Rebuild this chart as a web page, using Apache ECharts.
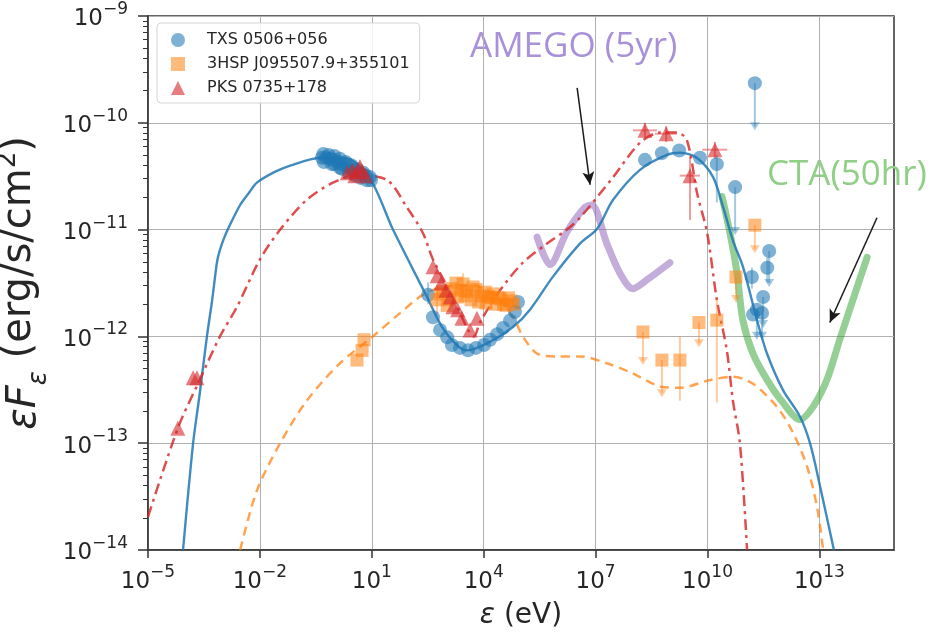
<!DOCTYPE html>
<html><head><meta charset="utf-8">
<script src="https://cdn.jsdelivr.net/npm/echarts@6/dist/echarts.min.js"></script>
<style>html,body{margin:0;padding:0;background:#fff}#c{width:932px;height:638px}</style>
</head><body><div id="c"></div>
<script>
// ---------- axes ----------
const xTickValues = [1e-5, 1e-2, 1e1, 1e4, 1e7, 1e10, 1e13];
const yTickValues = [1e-14, 1e-13, 1e-12, 1e-11, 1e-10, 1e-9];
const yMinorTickValues = [];
for (let e = -14; e < -9; e++) for (let m = 2; m <= 9; m++) yMinorTickValues.push(m * Math.pow(10, e));

// ---------- model curves [eV, erg/s/cm2] ----------
const txsModel = [[8.7e-5,1.0e-14],[1.62e-4,1.0e-13],[2.45e-4,2.95e-13],[3.8e-4,1.0e-12],[5.25e-4,2.19e-12],[7.1e-4,5.0e-12],
 [8.3e-4,6.3e-12],[1.12e-3,8.5e-12],[1.6e-3,1.12e-11],[2.95e-3,1.7e-11],[5.0e-3,2.19e-11],[8.3e-3,2.75e-11],[2.5e-2,3.47e-11],[6.5e-2,3.98e-11],[0.41,4.68e-11],[1.9,4.68e-11],[8.9,3.0e-11],[37,1.0e-11],
 [302,2.34e-12],[760,1.23e-12],[1.9e3,8.3e-13],[3.55e3,7.4e-13],[1.48e4,8.9e-13],[6.2e4,1.23e-12],[1.74e5,1.78e-12],[7.2e5,3.63e-12],
 [3.8e6,7.4e-12],[1.1e7,1.02e-11],[2.95e7,1.9e-11],[1.55e8,3.63e-11],[8.1e8,5.0e-11],[1.82e9,5.25e-11],[5.25e9,4.68e-11],[1.41e10,3.1e-11],
 [2.63e10,1.62e-11],[4.8e10,7.9e-12],[8.9e10,4.5e-12],[2.14e11,1.41e-12],[4.0e11,6.8e-13],[1.05e12,3.16e-13],[3.0e12,1.78e-13],
 [5.6e12,1.0e-13],[1.05e13,3.9e-14],[2.45e13,1.0e-14]];
const hspModel = [[2.95e-3,1e-14],[8.3e-3,3.6e-14],[3.5e-2,1e-13],[0.18,2.5e-13],[1.4,5.6e-13],[10.7,1e-12],[58,1.66e-12],[234,2.45e-12],
 [1e3,2.95e-12],[5e3,3.0e-12],[2e4,2.4e-12],[6.2e4,1.5e-12],[1.12e5,1e-12],[2.7e5,6.9e-13],[9.3e5,6.5e-13],[3.8e6,6.5e-13],[2.0e7,5.6e-13],
 [8.7e7,4.6e-13],[5.4e8,3.4e-13],[1.8e9,3.3e-13],[1.17e10,3.9e-13],[4.8e10,4.2e-13],[1.66e11,3.6e-13],[7.2e11,2.2e-13],[1.95e12,1.26e-13],
 [4.7e12,6.0e-14],[8.7e12,2.5e-14],[1.26e13,1e-14]];
const pksModel = [[1e-5,2.04e-14],[6.3e-5,1.38e-13],[2.2e-4,3.63e-13],[8.5e-4,1.0e-12],[2.45e-3,1.9e-12],[1e-2,5.25e-12],[3.5e-2,1.0e-11],
 [0.18,1.9e-11],[0.91,2.75e-11],[4.0,3.24e-11],[26,2.9e-11],[87,1.62e-11],[234,9.3e-12],[437,5.25e-12],[1.5e3,2.34e-12],[3.8e3,1.15e-12],
 [5.5e3,1.0e-12],[7.9e3,1.35e-12],[2.75e4,2.7e-12],[1.12e5,4.9e-12],[5.0e5,7.4e-12],[1.7e6,1.0e-11],[3.8e6,1.29e-11],[2.95e7,3.1e-11],
 [1.55e8,6.5e-11],[5.4e8,8.1e-11],[1.5e9,8.1e-11],[2.8e9,6.9e-11],[5.25e9,2.2e-11],[9.8e9,9.3e-12],[1.78e10,2.2e-12],[3.3e10,7.4e-13],
 [4.8e10,2.5e-13],[7.4e10,1.0e-13],[1.15e11,1.0e-14]];
const amegoSens = [[2.7e5,8.5e-12],[6.0e5,4.7e-12],[1.7e6,9.5e-12],[5.2e6,1.62e-11],[7.9e6,1.7e-11],[2.0e7,7.4e-12],[4.5e7,3.9e-12],
 [1.0e8,2.8e-12],[2.4e8,3.4e-12],[9.8e8,4.9e-12]];
const ctaSens = [[2.45e10,2.04e-11],[4.0e10,9.3e-12],[6.2e10,3.9e-12],[8.9e10,1.41e-12],[1.66e11,6.9e-13],[4.0e11,3.9e-13],[1.05e12,2.4e-13],
 [3.0e12,1.66e-13],[6.8e12,2.2e-13],[1.58e13,3.9e-13],[3.5e13,9.3e-13],[7.9e13,2.2e-12],[1.9e14,5.5e-12]];

// ---------- data points: [eV, flux, yLo, yHi, xLo, xHi, upperLimitArrowEnd] ----------
const N = null;
const txsPoints = [
 [0.46,4.7e-11],[0.59,4.7e-11],[0.76,4.6e-11],[0.98,4.5e-11],[1.23,4.3e-11],[1.58,4.1e-11],[2.0,3.95e-11],[2.6,3.8e-11],[3.3,3.6e-11],
 [4.3,3.45e-11],[5.5,3.3e-11],[6.9,3.2e-11],[8.9,3.1e-11],[0.52,4.3e-11],[0.85,4.1e-11],[1.4,3.8e-11],
 [0.5,5.1e-11],[0.7,5.0e-11],[1.0,4.9e-11],[1.4,4.6e-11],[2.0,4.3e-11],[2.8,4.0e-11],[4.0,3.7e-11],[6.0,3.4e-11],
 [1.0,4.1e-11],[1.6,3.7e-11],[2.4,3.45e-11],[3.6,3.2e-11],[5.0,3.05e-11],[7.5,2.9e-11],[9.5,2.9e-11],
 [324,2.45e-12,2.0e-12,3.2e-12],[437,1.51e-12],[676,1.15e-12],[1.05e3,9.8e-13],[1.41e3,8.3e-13],[2.3e3,7.8e-13],[3.8e3,7.4e-13],
 [6.2e3,7.8e-13],[1.02e4,8.3e-13],[1.48e4,9.3e-13],[2.3e4,1.05e-12],[3.3e4,1.2e-12],[5.1e4,1.41e-12],[6.9e4,1.7e-12],[8.3e4,2.1e-12],
 [2.1e8,4.5e-11],[6.0e8,5.2e-11],[1.74e9,5.5e-11],[6.3e9,4.7e-11],[1.78e10,4.1e-11,1.8e-11,5.0e-11],
 [5.5e10,2.5e-11,N,N,N,N,8.9e-12],[1.86e11,2.35e-10,N,N,N,N,8.5e-11],
 [4.5e11,6.3e-12,N,N,N,N,2.9e-12],[4.0e11,4.4e-12,3.2e-12,5.5e-12],[1.55e11,3.6e-12,2.8e-12,4.4e-12],
 [3.1e11,2.34e-12,N,N,N,N,1.2e-12],[2.1e11,1.78e-12,N,N,N,N,9.3e-13],[2.9e11,1.66e-12,N,N,N,N,9.3e-13],[1.66e11,1.6e-12]
];
const hspPoints = [
 [4.0,6.0e-13],[5.5,7.4e-13],[6.2,9.3e-13],
 [562,2.2e-12,1.6e-12,3.0e-12],[813,2.63e-12],[1.05e3,1.95e-12],[1.41e3,2.8e-12],[2.0e3,2.34e-12],[2.8e3,3.1e-12,2.5e-12,3.9e-12],
 [3.55e3,2.63e-12],[4.6e3,2.2e-12],[6.2e3,2.75e-12],[8.5e3,2.4e-12],[1.15e4,2.05e-12],[1.58e4,2.3e-12,1.8e-12,3.0e-12],
 [2.1e4,2.0e-12],[2.9e4,2.24e-12],[4.0e4,1.95e-12],[5.4e4,2.15e-12],[1.8e3,3.16e-12],
 [700,2.5e-12],[1.2e3,2.2e-12],[2.4e3,2.7e-12],[3.2e3,2.4e-12],[5.2e3,2.9e-12],[7.3e3,2.1e-12],[1.0e4,2.6e-12],[1.35e4,2.35e-12],
 [1.8e4,2.5e-12],[2.5e4,2.3e-12],[3.4e4,2.0e-12],[4.6e4,2.3e-12],[6.3e4,2.0e-12],
 [1.86e8,1.1e-12,N,N,N,N,5.4e-13],[6.0e8,6.0e-13,N,N,N,N,2.7e-13],[1.82e9,6.0e-13,2.5e-13,1.0e-12],
 [5.9e9,1.35e-12,N,N,N,N,7.9e-13],[1.78e10,1.42e-12,2.4e-13,2.2e-12],
 [1.86e11,1.1e-11,N,N,N,N,6.0e-12],[5.8e10,3.6e-12,N,N,N,N,2.05e-12]
];
const pksPoints = [
 [6.3e-5,1.38e-13],[1.62e-4,4.1e-13],[2.05e-4,4.1e-13],
 [2.2,3.4e-11],[3.0,3.6e-11],[4.0,3.5e-11],[5.5,3.5e-11],[6.9,3.2e-11],[3.5,3.2e-11],[4.8,3.9e-11],
 [437,4.5e-12],[562,3.7e-12],[724,3.16e-12],[977,2.7e-12],[1.26e3,2.34e-12],[1.5e3,1.9e-12],[2.0e3,1.78e-12],[2.6e3,1.48e-12],
 [4.3e3,1.15e-12],[6.6e3,1.48e-12],
 [2.1e8,8.5e-11,7.2e-11,1.0e-10,1.0e8,4.4e8],[7.8e8,7.9e-11,6.6e-11,9.3e-11,3.9e8,1.5e9],
 [3.4e9,3.2e-11,1.23e-11,4.8e-11,1.8e9,6.3e9],[1.58e10,5.6e-11,4.6e-11,6.6e-11,7.2e9,3.4e10]
];

// ---------- annotations ----------
const amegoLabel = 'AMEGO (5yr)';
const ctaLabel = 'CTA(50hr)';
const amegoArrow = [[3.2e6, 2.12e-10], [7.1e6, 2.63e-11]];
const ctaArrow = [[3.5e14, 1.29e-11], [1.9e13, 1.35e-12]];

const legendNames = ['TXS 0506+056', '3HSP J095507.9+355101', 'PKS 0735+178'];

const C_BLUE = 'rgba(31,119,180,0.72)', C_ORANGE = 'rgba(255,127,14,0.68)', C_RED = 'rgba(214,39,40,0.75)';
const E_BLUE = 'rgba(31,119,180,0.40)', E_ORANGE = 'rgba(255,127,14,0.40)', E_RED = 'rgba(214,39,40,0.45)';

function errSeries(points, color) {
  return {
    type: 'custom', silent: true, z: 3,
    data: points.map(p => [p[0], p[1]]),
    renderItem: function (params, api) {
      const p = points[params.dataIndex];
      const c = api.coord([p[0], p[1]]);
      const ch = [];
      const st = { stroke: color, lineWidth: 2, fill: null };
      if (p[2] != null) {
        const a = api.coord([p[0], p[2]]), b = api.coord([p[0], p[3]]);
        ch.push({ type: 'line', shape: { x1: a[0], y1: a[1], x2: b[0], y2: b[1] }, style: st });
      }
      if (p[4] != null) {
        const a = api.coord([p[4], p[1]]), b = api.coord([p[5], p[1]]);
        ch.push({ type: 'line', shape: { x1: a[0], y1: a[1], x2: b[0], y2: b[1] }, style: st });
      }
      if (p[6] != null) {
        const e = api.coord([p[0], p[6]]);
        ch.push({ type: 'line', shape: { x1: c[0], y1: c[1], x2: c[0], y2: e[1] - 4 }, style: st });
        ch.push({ type: 'polygon', shape: { points: [[e[0] - 5, e[1] - 8], [e[0] + 5, e[1] - 8], [e[0], e[1]]] }, style: { fill: color } });
      }
      return { type: 'group', children: ch };
    }
  };
}

function powLabel(v) {
  const e = Math.round(Math.log10(v));
  const s = String(e).replace('-', '\u2212');
  return '{b|10}{s|' + s + '}';
}
const labRich = {
  b: { fontSize: 23, fontFamily: 'DejaVu Sans', color: '#262626', verticalAlign: 'bottom', lineHeight: 30 },
  s: { fontSize: 17, fontFamily: 'DejaVu Sans', color: '#262626', verticalAlign: 'top', lineHeight: 30 }
};

const chart = echarts.init(document.getElementById('c'), null, { renderer: 'canvas' });
chart.setOption({
  animation: false,
  backgroundColor: '#fff',
  grid: { left: 148, right: 38, top: 16, bottom: 88, containLabel: false, outerBoundsMode: 'none',
    show: true, borderColor: '#333', borderWidth: 1.5, backgroundColor: 'transparent' },
  legend: {
    orient: 'vertical', left: 157, top: 23,
    data: [{ name: legendNames[0], icon: 'circle' }, { name: legendNames[1], icon: 'rect' }, { name: legendNames[2], icon: 'triangle' }],
    itemWidth: 14, itemHeight: 14, itemGap: 8,
    padding: [9, 10, 7, 14],
    borderColor: '#d5d5d5', borderWidth: 1, borderRadius: 4, backgroundColor: 'rgba(255,255,255,0.85)',
    textStyle: { fontSize: 16, fontFamily: 'DejaVu Sans', color: '#262626', padding: [0, 0, 0, 17] },
    selectedMode: false
  },
  xAxis: {
    type: 'log', logBase: 10, min: 1e-5, max: 1e15,
    name: '{i|\u03b5} (eV)', nameLocation: 'middle', nameGap: 52,
    nameTextStyle: { fontSize: 28, fontFamily: 'DejaVu Sans', color: '#262626', rich: { i: { fontSize: 28, fontStyle: 'italic', fontFamily: 'DejaVu Sans', color: '#262626' } } },
    axisLine: { show: true, lineStyle: { color: '#333', width: 1.5 } },
    axisTick: { show: true, inside: false, length: 8, lineStyle: { color: '#333', width: 1.5 }, customValues: xTickValues },
    axisLabel: { customValues: xTickValues, formatter: powLabel, rich: labRich, margin: 14 },
    splitLine: { show: true, lineStyle: { color: '#b0b0b0', width: 1 } },
    minorTick: { show: false }
  },
  yAxis: [{
    type: 'log', logBase: 10, min: 1e-14, max: 1e-9,
    name: '{i|\u03b5F}{sub|\u03b5} (erg/s/cm{sup|2})', nameLocation: 'middle', nameGap: 88, nameRotate: 90,
    nameTextStyle: { fontSize: 40, fontFamily: 'DejaVu Sans', color: '#262626',
      rich: {
        i: { fontSize: 40, fontStyle: 'italic', fontFamily: 'DejaVu Sans', color: '#262626', verticalAlign: 'bottom', lineHeight: 50 },
        sub: { fontSize: 26, fontStyle: 'italic', fontFamily: 'DejaVu Sans', color: '#262626', verticalAlign: 'bottom', lineHeight: 50, padding: [0, 0, -7, 0] },
        sup: { fontSize: 26, fontFamily: 'DejaVu Sans', color: '#262626', verticalAlign: 'top', lineHeight: 50 }
      } },
    axisLine: { show: true, lineStyle: { color: '#333', width: 1.5 } },
    axisTick: { show: true, length: 10, lineStyle: { color: '#333', width: 1.5 }, customValues: yTickValues },
    axisLabel: { customValues: yTickValues, formatter: powLabel, rich: labRich, margin: 20 },
    splitLine: { show: true, lineStyle: { color: '#b0b0b0', width: 1 } }
  }, {
    type: 'log', logBase: 10, min: 1e-14, max: 1e-9, position: 'left',
    axisLine: { show: false },
    axisTick: { show: true, length: 5, lineStyle: { color: '#333', width: 1 }, customValues: yMinorTickValues },
    axisLabel: { show: false },
    splitLine: { show: false }
  }],
  graphic: [
    { type: 'text', left: 470, top: 30, style: { text: amegoLabel, fontSize: 35, fontFamily: 'Open Sans', fill: '#a891d8' } },
    { type: 'text', left: 767, top: 158, style: { text: ctaLabel, fontSize: 35, fontFamily: 'Open Sans', fill: '#8fcf86' } }
  ],
  series: [
    { name: 'AMEGO', type: 'line', data: amegoSens, showSymbol: false, smooth: 0.3, z: 1,
      lineStyle: { color: 'rgba(148,103,189,0.55)', width: 7, cap: 'round', join: 'round' },
      markLine: { silent: true, symbol: ['none', 'arrow'], symbolSize: [9, 13], label: { show: false },
        lineStyle: { color: '#1a1a1a', width: 1.5, type: 'solid' },
        data: [[{ coord: amegoArrow[0] }, { coord: amegoArrow[1] }]] } },
    { name: 'CTA', type: 'line', data: ctaSens, showSymbol: false, smooth: 0.3, z: 1,
      lineStyle: { color: 'rgba(44,160,44,0.5)', width: 7, cap: 'round', join: 'round' },
      markLine: { silent: true, symbol: ['none', 'arrow'], symbolSize: [9, 13], label: { show: false },
        lineStyle: { color: '#1a1a1a', width: 1.5, type: 'solid' },
        data: [[{ coord: ctaArrow[0] }, { coord: ctaArrow[1] }]] } },
    { name: 'TXS model', type: 'line', data: txsModel, showSymbol: false, smooth: 0.3, z: 2,
      lineStyle: { color: 'rgba(31,119,180,0.85)', width: 2.4 } },
    { name: '3HSP model', type: 'line', data: hspModel, showSymbol: false, smooth: 0.3, z: 2,
      lineStyle: { color: 'rgba(255,127,14,0.72)', width: 2.5, type: [9, 6] } },
    { name: 'PKS model', type: 'line', data: pksModel, showSymbol: false, smooth: 0.3, z: 2,
      lineStyle: { color: 'rgba(214,39,40,0.82)', width: 2.5, type: [11, 5, 3, 5] } },
    errSeries(txsPoints, E_BLUE),
    errSeries(hspPoints, E_ORANGE),
    errSeries(pksPoints, E_RED),
    { name: legendNames[0], type: 'scatter', symbol: 'circle', symbolSize: 14, z: 4,
      data: txsPoints.map(p => [p[0], p[1]]), itemStyle: { color: C_BLUE } },
    { name: legendNames[1], type: 'scatter', symbol: 'rect', symbolSize: 13, z: 4,
      data: hspPoints.map(p => [p[0], p[1]]), itemStyle: { color: C_ORANGE } },
    { name: legendNames[2], type: 'scatter', symbol: 'triangle', symbolSize: 15, z: 4,
      data: pksPoints.map(p => [p[0], p[1]]), itemStyle: { color: C_RED } }
  ]
});
</script></body></html>
